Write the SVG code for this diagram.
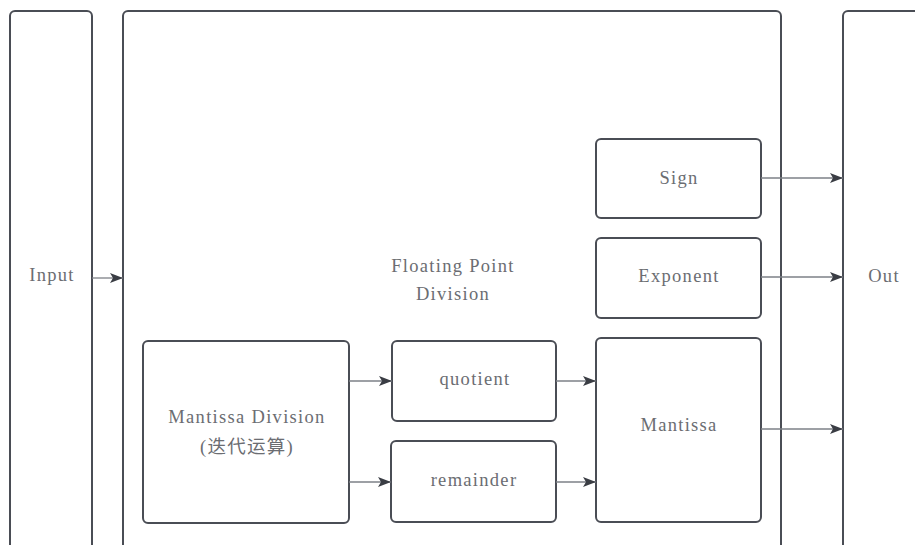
<svg xmlns="http://www.w3.org/2000/svg" width="915" height="545" viewBox="0 0 915 545">
<style>
.box{fill:#ffffff;stroke:#4a4d55;stroke-width:2}
.lbl{font-family:"Liberation Serif","Noto Sans CJK SC",serif;font-size:18.5px;letter-spacing:1.3px;fill:#6b6d72;text-anchor:middle;dominant-baseline:central}
.conn{stroke:#7d8087;stroke-width:1.3;fill:none;marker-end:url(#ah)}
</style>
<defs>
<marker id="ah" markerWidth="14" markerHeight="10" refX="13" refY="5" orient="auto" markerUnits="userSpaceOnUse">
<path d="M0,0 L13,5 L0,10 L3,5 Z" fill="#3a3d44"/>
</marker>
</defs>
<rect width="915" height="545" fill="#ffffff"/>
<g id="input"><rect class="box" x="10" y="11" width="82" height="540" rx="5"/><text class="lbl" x="52" y="275">Input</text></g>
<g id="fpdiv"><rect class="box" x="123" y="11" width="658" height="540" rx="5"/><text class="lbl" x="453" y="266">Floating Point</text><text class="lbl" x="453" y="294">Division</text></g>
<g id="out"><rect class="box" x="843" y="11" width="90" height="540" rx="5"/><text class="lbl" x="884" y="276">Out</text></g>
<g id="sign"><rect class="box" x="596" y="139" width="165" height="79" rx="5"/><text class="lbl" x="679" y="178">Sign</text></g>
<g id="exponent"><rect class="box" x="596" y="238" width="165" height="80" rx="5"/><text class="lbl" x="679" y="276">Exponent</text></g>
<g id="mantissa"><rect class="box" x="596" y="338" width="165" height="184" rx="5"/><text class="lbl" x="679" y="425">Mantissa</text></g>
<g id="mdiv"><rect class="box" x="143" y="341" width="206" height="182" rx="5"/><text class="lbl" x="247" y="417">Mantissa Division</text><text class="lbl" x="247" y="447">(迭代运算)</text></g>
<g id="quotient"><rect class="box" x="392" y="341" width="164" height="80" rx="5"/><text class="lbl" x="475" y="379">quotient</text></g>
<g id="remainder"><rect class="box" x="391" y="441" width="165" height="81" rx="5"/><text class="lbl" x="474" y="480">remainder</text></g>
<g id="connectors">
<line class="conn" x1="92" y1="278" x2="123" y2="278"/>
<line class="conn" x1="349" y1="381" x2="392" y2="381"/>
<line class="conn" x1="349" y1="482" x2="391" y2="482"/>
<line class="conn" x1="556" y1="381" x2="596" y2="381"/>
<line class="conn" x1="556" y1="482" x2="596" y2="482"/>
<line class="conn" x1="761" y1="178" x2="843" y2="178"/>
<line class="conn" x1="761" y1="277" x2="843" y2="277"/>
<line class="conn" x1="761" y1="429" x2="843" y2="429"/>
</g>
</svg>
